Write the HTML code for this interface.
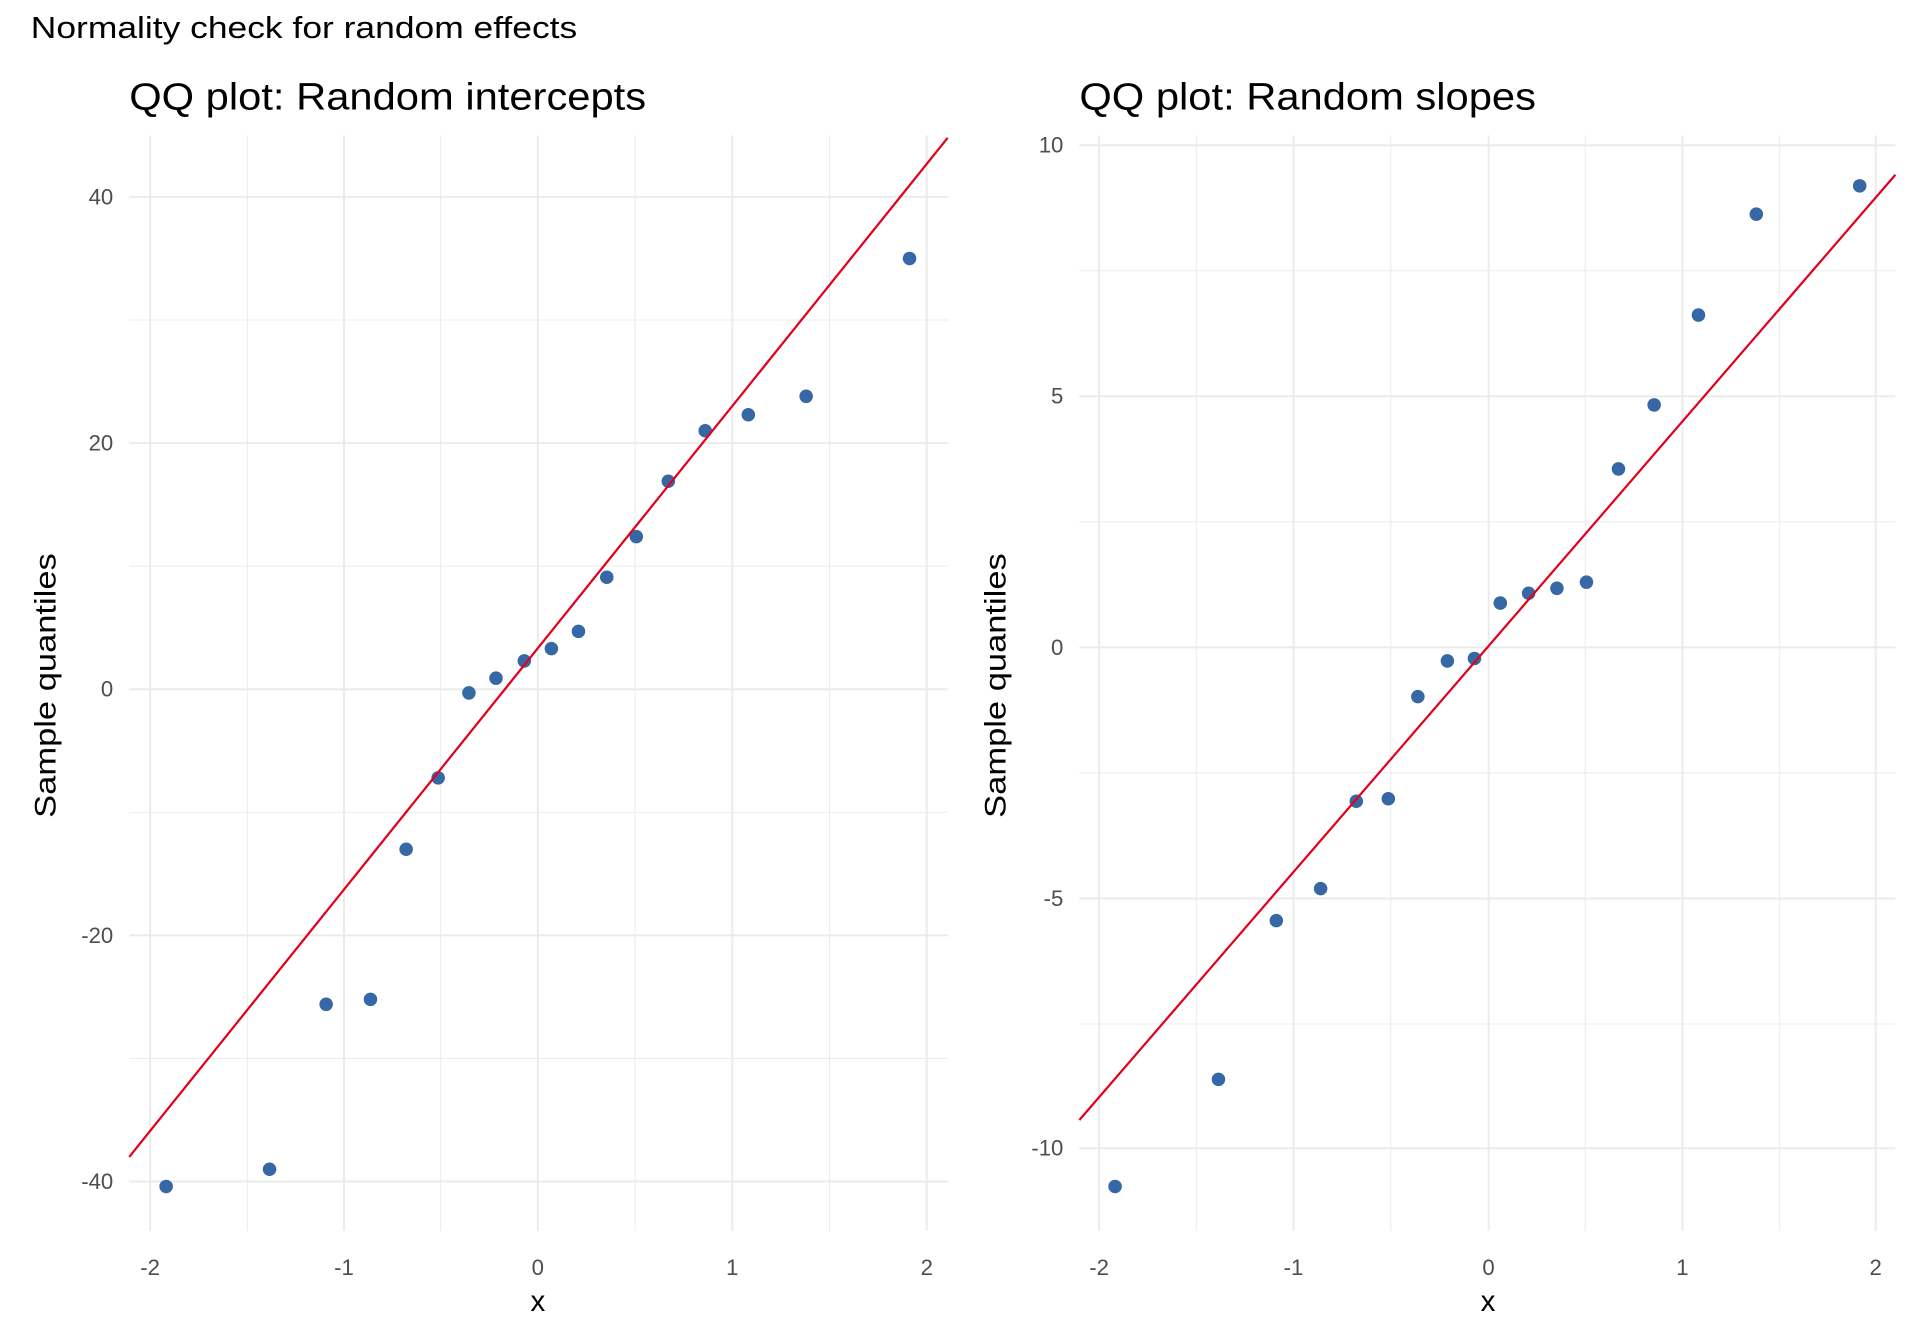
<!DOCTYPE html>
<html><head><meta charset="utf-8"><style>html,body{margin:0;padding:0;background:#fff}svg{display:block}</style></head>
<body>
<svg width="1920" height="1344" viewBox="0 0 1560 1092" xmlns="http://www.w3.org/2000/svg" font-family="Liberation Sans, Arial, sans-serif">
<rect width="1560" height="1092" fill="#fff"/>
<text x="25" y="31" font-size="25" fill="#000" textLength="444" lengthAdjust="spacingAndGlyphs">Normality check for random effects</text>
<text x="105" y="89" font-size="31" fill="#000" textLength="420" lengthAdjust="spacingAndGlyphs">QQ plot: Random intercepts</text>
<text x="877" y="89" font-size="31" fill="#000" textLength="371" lengthAdjust="spacingAndGlyphs">QQ plot: Random slopes</text>
<g stroke="#ebebeb" stroke-width="0.8">
<line x1="201" y1="110" x2="201" y2="1000"/><line x1="358" y1="110" x2="358" y2="1000"/><line x1="516" y1="110" x2="516" y2="1000"/><line x1="674" y1="110" x2="674" y2="1000"/>
<line x1="105" y1="260" x2="770" y2="260"/><line x1="105" y1="460" x2="770" y2="460"/><line x1="105" y1="660" x2="770" y2="660"/><line x1="105" y1="860" x2="770" y2="860"/>
<line x1="972" y1="110" x2="972" y2="1000"/><line x1="1130" y1="110" x2="1130" y2="1000"/><line x1="1288" y1="110" x2="1288" y2="1000"/><line x1="1446" y1="110" x2="1446" y2="1000"/>
<line x1="877" y1="220" x2="1540" y2="220"/><line x1="877" y1="424" x2="1540" y2="424"/><line x1="877" y1="628" x2="1540" y2="628"/><line x1="877" y1="832" x2="1540" y2="832"/>
</g>
<g stroke="#ebebeb" stroke-width="1.6">
<line x1="122" y1="110" x2="122" y2="1000"/><line x1="279.5" y1="110" x2="279.5" y2="1000"/><line x1="437" y1="110" x2="437" y2="1000"/><line x1="595" y1="110" x2="595" y2="1000"/><line x1="753" y1="110" x2="753" y2="1000"/>
<line x1="105" y1="160" x2="770" y2="160"/><line x1="105" y1="360" x2="770" y2="360"/><line x1="105" y1="560" x2="770" y2="560"/><line x1="105" y1="760" x2="770" y2="760"/><line x1="105" y1="960" x2="770" y2="960"/>
<line x1="893" y1="110" x2="893" y2="1000"/><line x1="1051" y1="110" x2="1051" y2="1000"/><line x1="1209.5" y1="110" x2="1209.5" y2="1000"/><line x1="1367" y1="110" x2="1367" y2="1000"/><line x1="1524" y1="110" x2="1524" y2="1000"/>
<line x1="877" y1="118" x2="1540" y2="118"/><line x1="877" y1="322" x2="1540" y2="322"/><line x1="877" y1="526" x2="1540" y2="526"/><line x1="877" y1="730" x2="1540" y2="730"/><line x1="877" y1="933" x2="1540" y2="933"/>
</g>
<g fill="#4d4d4d" font-size="18">
<g text-anchor="end">
<text x="92" y="166">40</text><text x="92" y="366">20</text><text x="92" y="566">0</text><text x="92" y="766">-20</text><text x="92" y="966">-40</text>
<text x="864" y="124">10</text><text x="864" y="328">5</text><text x="864" y="532">0</text><text x="864" y="736">-5</text><text x="864" y="939">-10</text>
</g>
<g text-anchor="middle">
<text x="122" y="1036">-2</text><text x="279.5" y="1036">-1</text><text x="437" y="1036">0</text><text x="595" y="1036">1</text><text x="753" y="1036">2</text>
<text x="893" y="1036">-2</text><text x="1051" y="1036">-1</text><text x="1209.5" y="1036">0</text><text x="1367" y="1036">1</text><text x="1524" y="1036">2</text>
</g>
</g>
<g font-size="24" fill="#000" text-anchor="middle">
<text x="437" y="1065">x</text><text x="1209" y="1065">x</text>
<text transform="translate(45,557) rotate(-90)" textLength="215" lengthAdjust="spacingAndGlyphs">Sample quantiles</text>
<text transform="translate(817,557) rotate(-90)" textLength="215" lengthAdjust="spacingAndGlyphs">Sample quantiles</text>
</g>
<g fill="#3568a4">
<circle cx="135" cy="964" r="5.5"/><circle cx="219" cy="950" r="5.5"/><circle cx="265" cy="816" r="5.5"/><circle cx="301" cy="812" r="5.5"/><circle cx="330" cy="690" r="5.5"/><circle cx="356" cy="632" r="5.5"/><circle cx="381" cy="563" r="5.5"/><circle cx="403" cy="551" r="5.5"/><circle cx="426" cy="537" r="5.5"/><circle cx="448" cy="527" r="5.5"/><circle cx="470" cy="513" r="5.5"/><circle cx="493" cy="469" r="5.5"/><circle cx="517" cy="436" r="5.5"/><circle cx="543" cy="391" r="5.5"/><circle cx="573" cy="350" r="5.5"/><circle cx="608" cy="337" r="5.5"/><circle cx="655" cy="322" r="5.5"/><circle cx="739" cy="210" r="5.5"/>
<circle cx="906" cy="964" r="5.5"/><circle cx="990" cy="877" r="5.5"/><circle cx="1037" cy="748" r="5.5"/><circle cx="1073" cy="722" r="5.5"/><circle cx="1102" cy="651" r="5.5"/><circle cx="1128" cy="649" r="5.5"/><circle cx="1152" cy="566" r="5.5"/><circle cx="1176" cy="537" r="5.5"/><circle cx="1198" cy="535" r="5.5"/><circle cx="1219" cy="490" r="5.5"/><circle cx="1242" cy="482" r="5.5"/><circle cx="1265" cy="478" r="5.5"/><circle cx="1289" cy="473" r="5.5"/><circle cx="1315" cy="381" r="5.5"/><circle cx="1344" cy="329" r="5.5"/><circle cx="1380" cy="256" r="5.5"/><circle cx="1427" cy="174" r="5.5"/><circle cx="1511" cy="151" r="5.5"/>
</g>
<g stroke="#e3001b" stroke-width="1.8">
<line x1="105" y1="940" x2="770" y2="112"/>
<line x1="877" y1="910" x2="1540" y2="142"/>
</g>
</svg>
</body></html>
